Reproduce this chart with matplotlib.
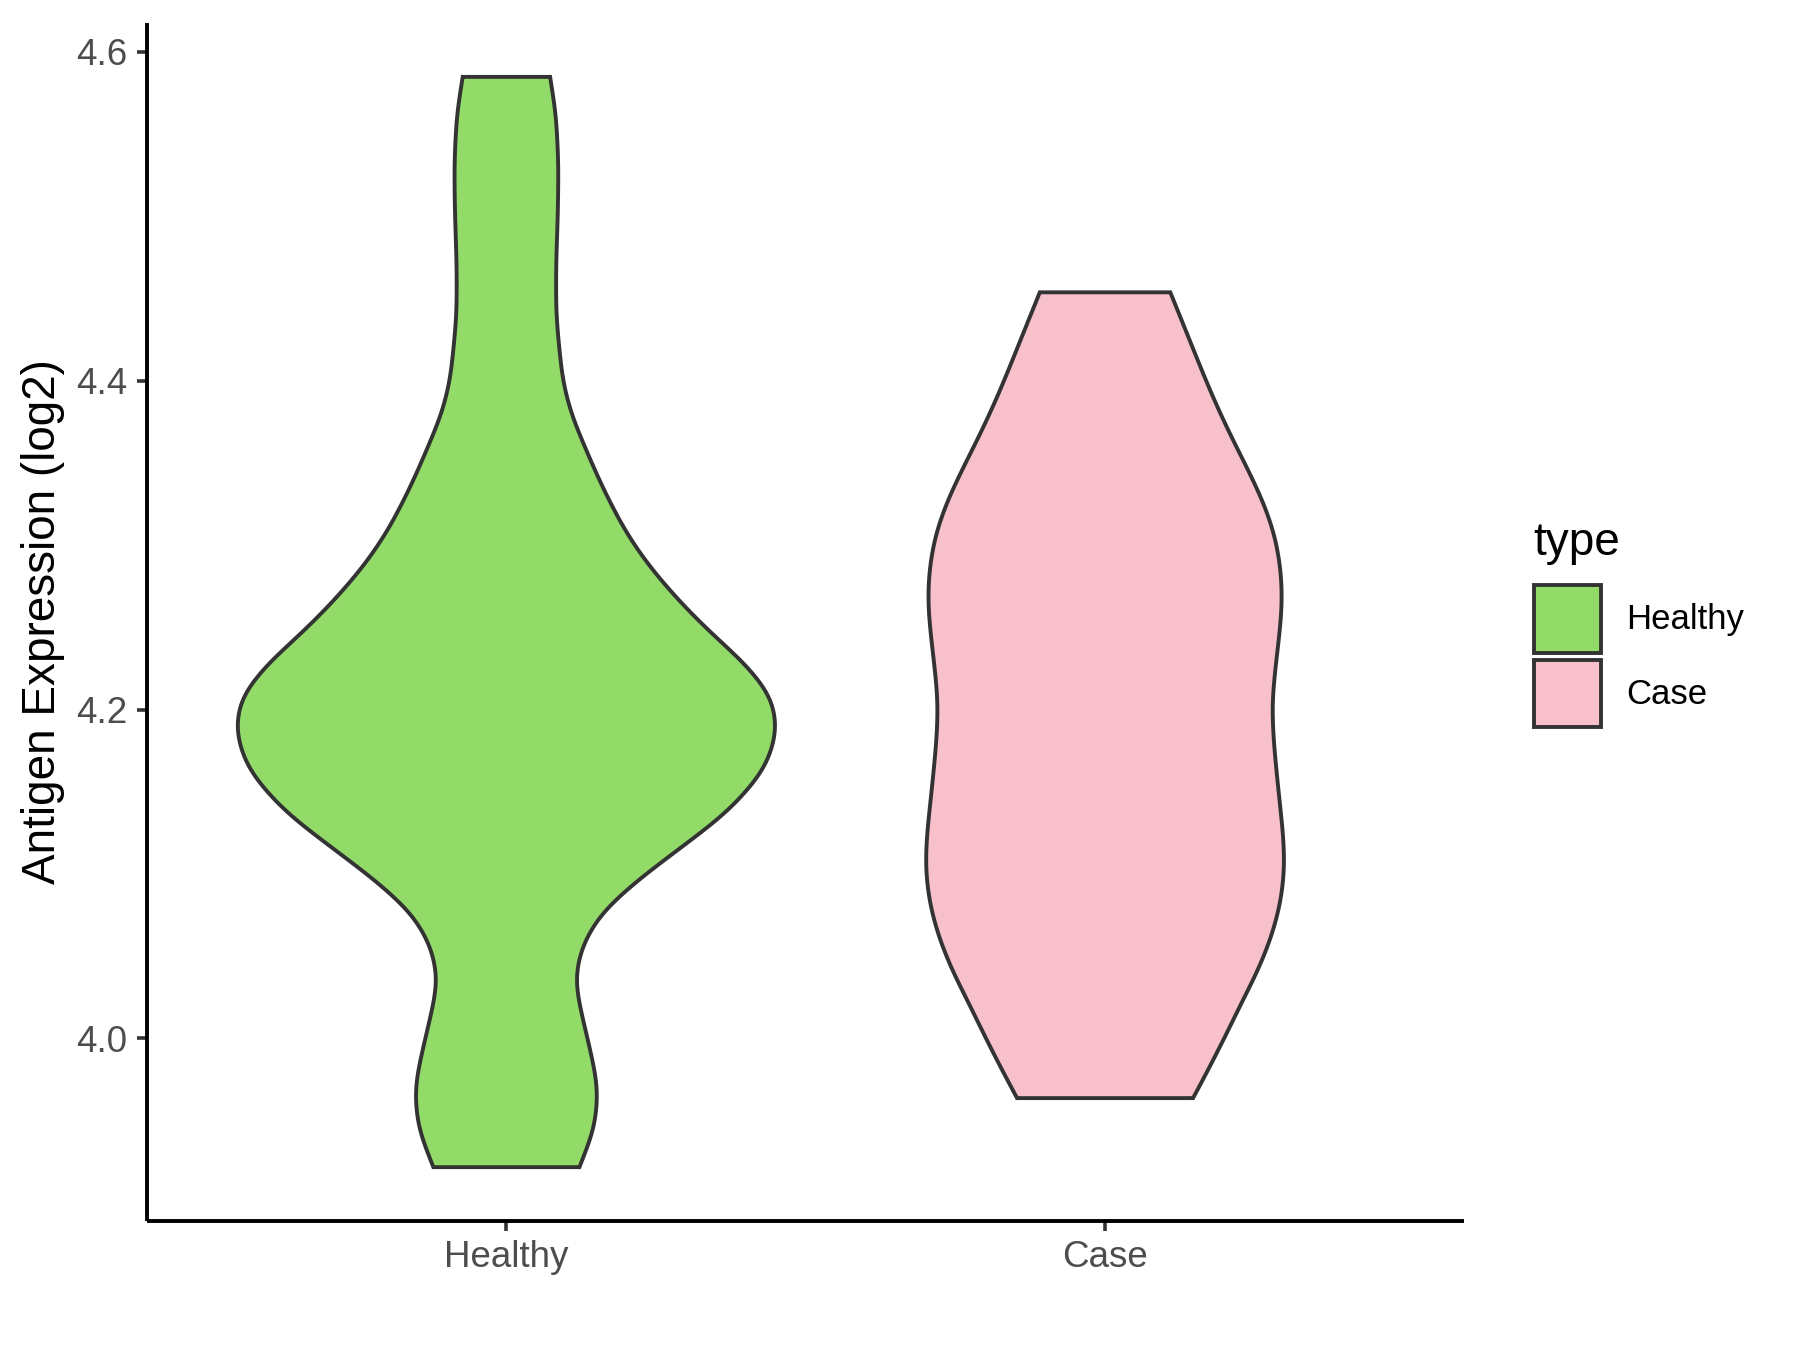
import matplotlib
matplotlib.use("Agg")
import matplotlib.pyplot as plt
from matplotlib.patches import Patch
import numpy as np

plt.rcParams['font.family'] = ['Liberation Sans', 'DejaVu Sans']

# groups and colours
groups = ['Healthy', 'Case']
fills = ['#93DB69', '#F7C0CB']
edge = '#333333'

# violin outlines: expression level and half width
healthy_y = [3.922, 3.945, 3.965, 3.975, 3.995, 4.016, 4.036, 4.056, 4.076,
             4.096, 4.117, 4.137, 4.157, 4.167, 4.188, 4.208, 4.228, 4.248,
             4.268, 4.289, 4.309, 4.325, 4.339, 4.360, 4.380, 4.400, 4.421,
             4.441, 4.471, 4.502, 4.532, 4.562, 4.585]
healthy_w = [0.122, 0.147, 0.153, 0.151, 0.139, 0.125, 0.114, 0.125, 0.156,
             0.217, 0.294, 0.367, 0.417, 0.436, 0.453, 0.444, 0.400, 0.338,
             0.284, 0.235, 0.198, 0.175, 0.156, 0.131, 0.108, 0.094, 0.088,
             0.083, 0.083, 0.086, 0.087, 0.083, 0.073]

case_y = [3.964, 3.981, 4.001, 4.022, 4.042, 4.062, 4.082, 4.103, 4.123,
          4.143, 4.164, 4.184, 4.204, 4.224, 4.245, 4.265, 4.285, 4.306,
          4.326, 4.346, 4.366, 4.387, 4.407, 4.427, 4.454]
case_w = [0.147, 0.172, 0.200, 0.228, 0.256, 0.278, 0.293, 0.300, 0.298,
          0.292, 0.286, 0.281, 0.279, 0.284, 0.291, 0.296, 0.294, 0.284,
          0.265, 0.239, 0.211, 0.184, 0.161, 0.139, 0.109]

profiles = [(healthy_y, healthy_w), (case_y, case_w)]

y_ticks = [4.0, 4.2, 4.4, 4.6]


def smooth_profile(ys, ws, n=600, sigma=0.009):
    # resample the read outline finely and blur it a little so it draws
    # like a density curve instead of a chain of straight pieces
    yy = np.linspace(ys[0], ys[-1], n)
    ww = np.interp(yy, ys, ws)
    step = yy[1] - yy[0]
    k = int(4 * sigma / step)
    kern = np.exp(-0.5 * (np.arange(-k, k + 1) * step / sigma) ** 2)
    kern /= kern.sum()
    # odd reflection at the ends keeps the slope, so the corners stay sharp
    lo = 2 * ww[0] - ww[k:0:-1]
    hi = 2 * ww[-1] - ww[-2:-k - 2:-1]
    ww = np.convolve(np.concatenate([lo, ww, hi]), kern, mode='valid')
    return yy, ww


fig = plt.figure(figsize=(18, 13.5), dpi=100)
ax = fig.add_axes([0.0815, 0.0956, 0.7317, 0.8874])

for i, (ys, ws) in enumerate(profiles):
    yy, ww = smooth_profile(ys, ws)
    c = i + 1
    ax.fill_betweenx(yy, c - ww, c + ww, facecolor=fills[i],
                     edgecolor=edge, linewidth=2.8, joinstyle='miter')

ax.set_xlim(0.4, 2.6)
ax.set_ylim(3.889, 4.6175)
ax.set_xticks([1, 2])
ax.set_xticklabels(groups)
ax.set_yticks(y_ticks)
ax.set_yticklabels(['%.1f' % v for v in y_ticks])

for s in ['top', 'right']:
    ax.spines[s].set_visible(False)
for s in ['left', 'bottom']:
    ax.spines[s].set_color('black')
    ax.spines[s].set_linewidth(2.8)
    ax.spines[s].set_capstyle('butt')

ax.tick_params(axis='both', colors=edge, width=2.6, length=7,
               labelsize=26.5, labelcolor='#4D4D4D', pad=7)

ax.set_ylabel('Antigen Expression (log2)', fontsize=33, color='black')
ax.yaxis.set_label_coords(-0.062, 0.5)

handles = [Patch(facecolor=fills[i], edgecolor=edge, linewidth=2.8, label=g)
           for i, g in enumerate(groups)]
leg = fig.legend(handles=handles, title='type', loc='upper left',
                 bbox_to_anchor=(0.852, 0.6144), frameon=False,
                 fontsize=25, title_fontsize=33, handlelength=1.93,
                 handleheight=2.6, labelspacing=0.2, handletextpad=0.74,
                 borderpad=0, borderaxespad=0, alignment='left')
# more room between the legend title and the keys
leg._legend_box.sep = 15

fig.savefig('out.png', dpi=100)
